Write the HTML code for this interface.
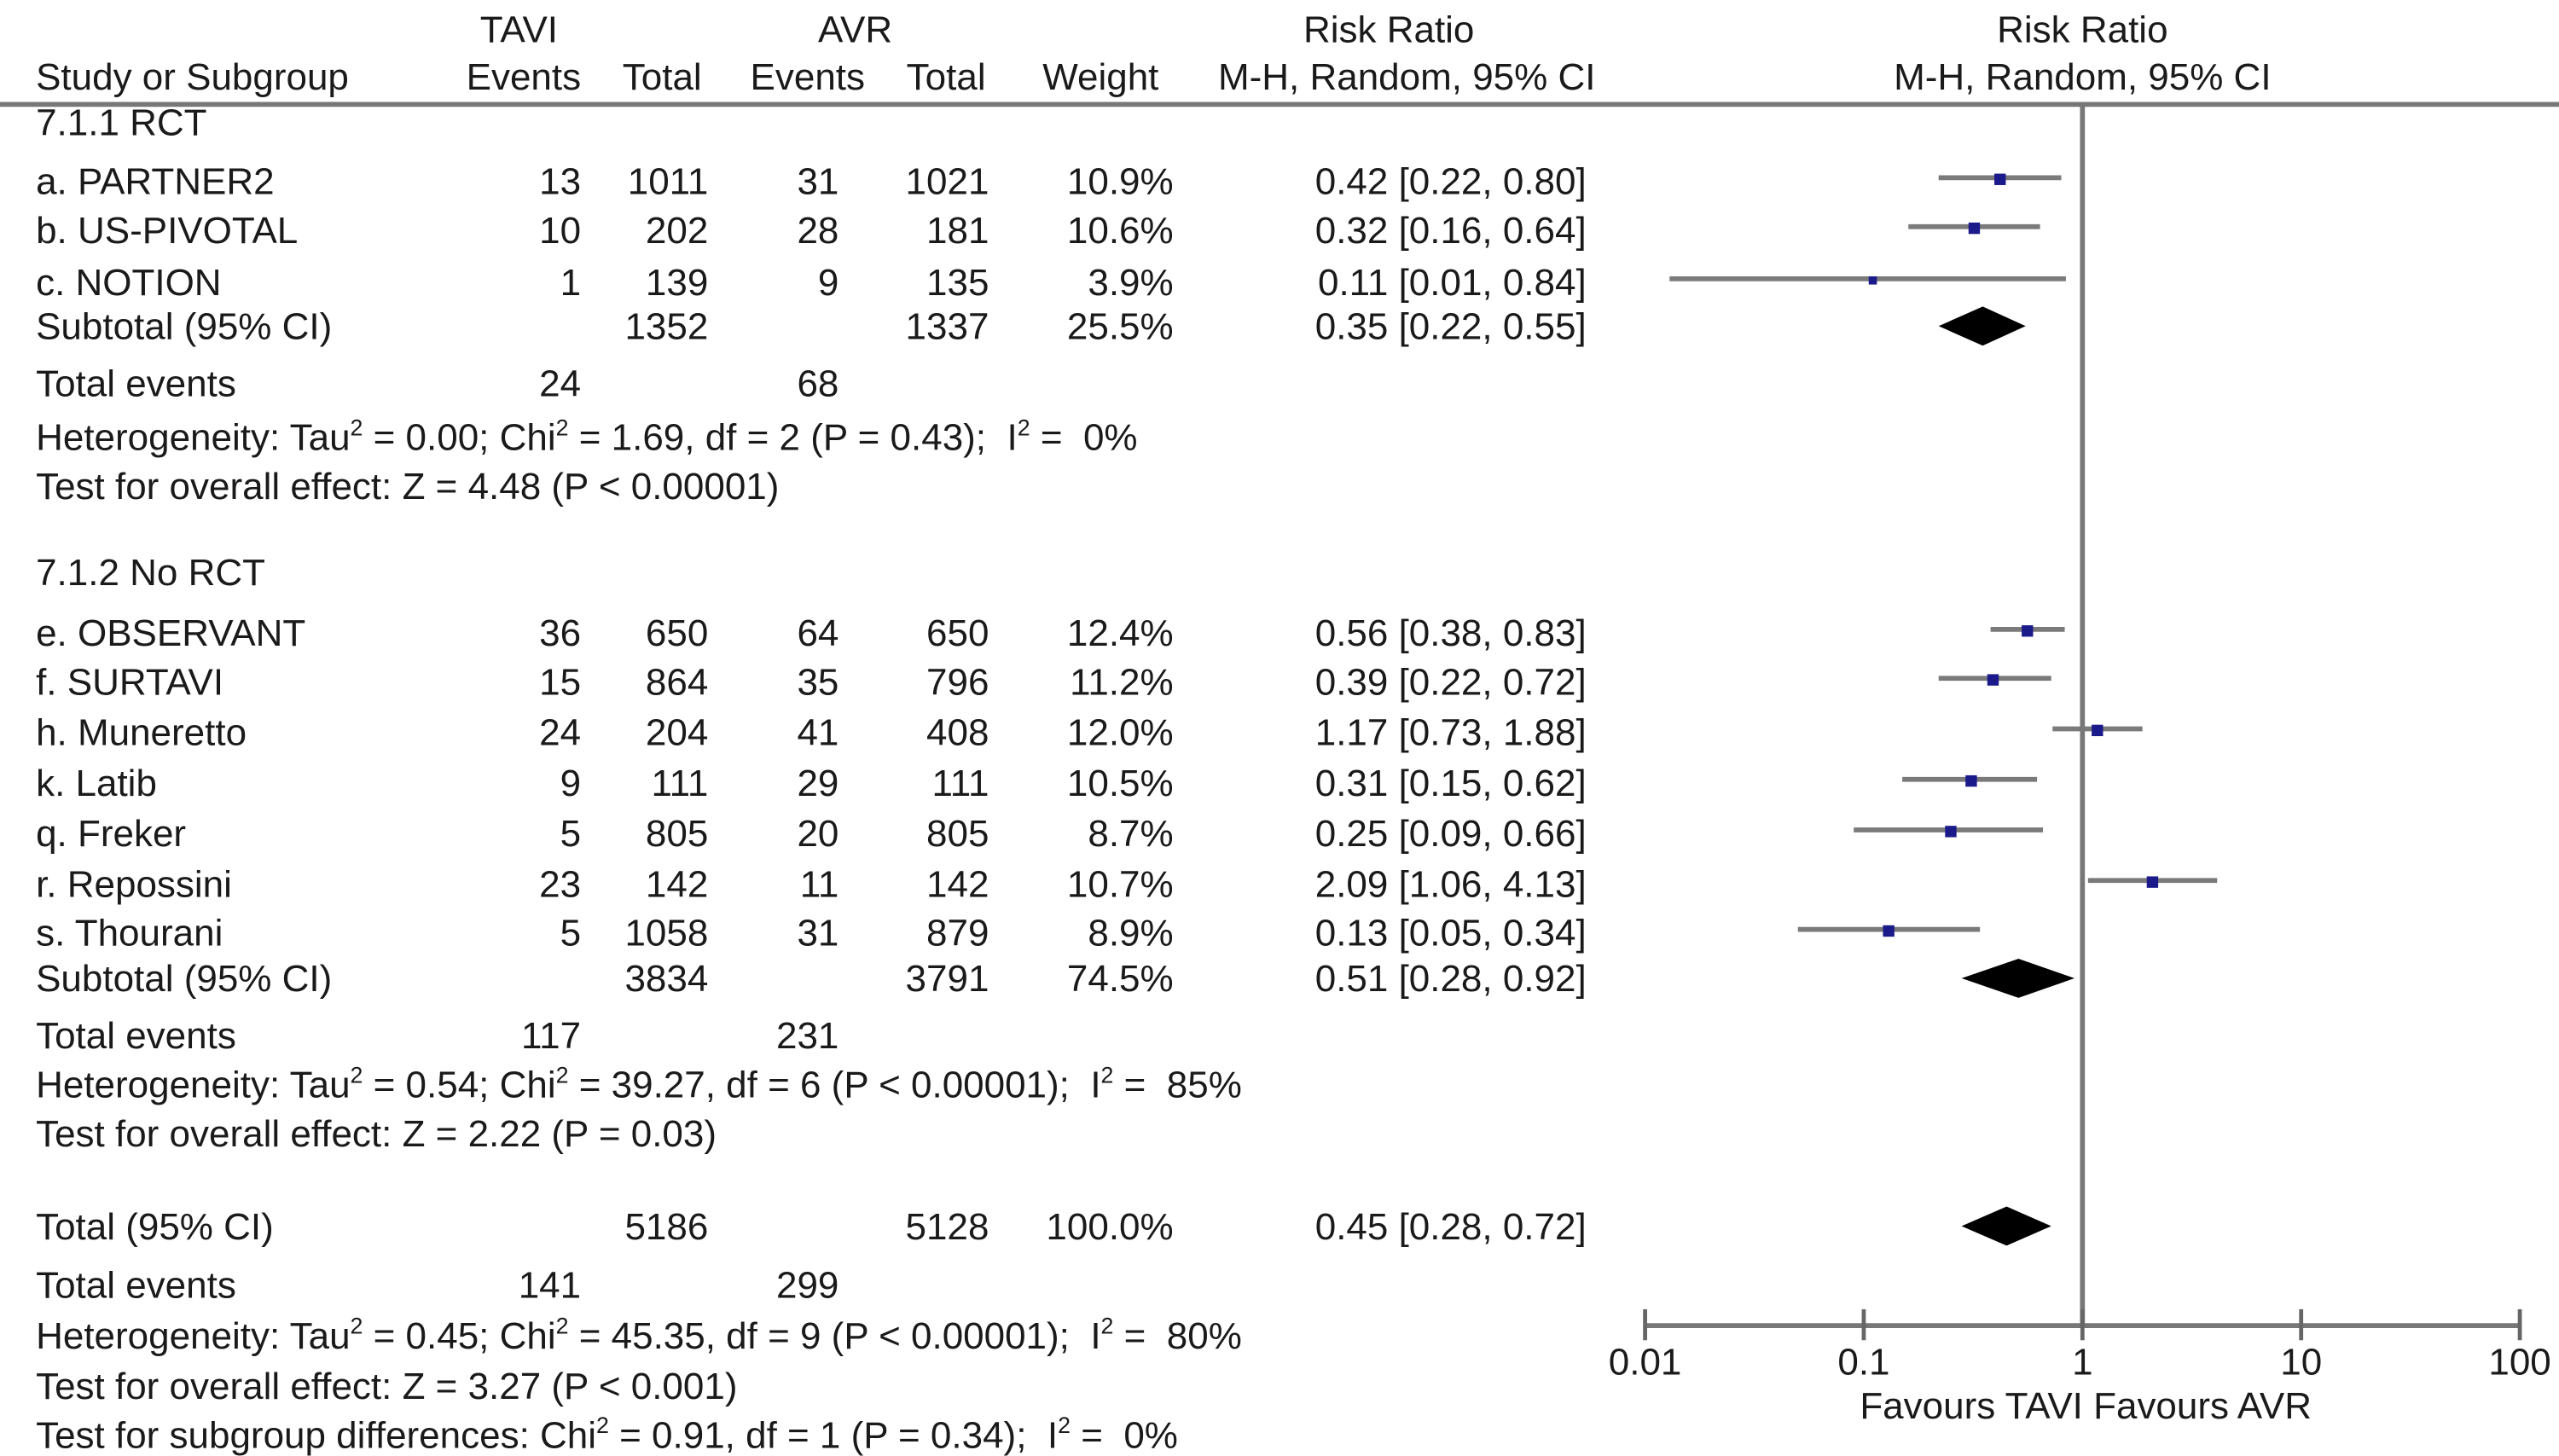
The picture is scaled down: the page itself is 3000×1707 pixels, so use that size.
<!DOCTYPE html>
<html><head><meta charset="utf-8"><style>
html,body{margin:0;padding:0;background:#fff;}
svg{display:block;}
text{font-family:"Liberation Sans",Arial,sans-serif;font-size:23px;fill:#1a1a1a;white-space:pre;}
</style></head><body>
<svg id="chart" width="3000" height="1707" viewBox="0 0 1568 893" preserveAspectRatio="none" xmlns="http://www.w3.org/2000/svg" xml:space="preserve">
<g id="hdr">
<text x="318" y="26" text-anchor="middle">TAVI</text>
<text x="524" y="26" text-anchor="middle">AVR</text>
<text x="851" y="26" text-anchor="middle">Risk Ratio</text>
<text x="1276" y="26" text-anchor="middle">Risk Ratio</text>
<text x="22" y="55">Study or Subgroup</text>
<text x="356" y="55" text-anchor="end">Events</text>
<text x="430" y="55" text-anchor="end">Total</text>
<text x="530" y="55" text-anchor="end">Events</text>
<text x="604" y="55" text-anchor="end">Total</text>
<text x="710" y="55" text-anchor="end">Weight</text>
<text x="862" y="55" text-anchor="middle">M-H, Random, 95% CI</text>
<text x="1276" y="55" text-anchor="middle">M-H, Random, 95% CI</text>
</g>
<line x1="0" y1="64" x2="1568" y2="64" stroke="#777" stroke-width="3"/>
<g id="rows"></g>
<g id="plot"></g>
</svg>
<script>
const studyNames=["a. PARTNER2","b. US-PIVOTAL","c. NOTION","e. OBSERVANT","f. SURTAVI","h. Muneretto","k. Latib","q. Freker","r. Repossini","s. Thourani"];
const studyY=[111,141,173,388,418,449,480,511,542,572];
const taviEvents=["13","10","1","36","15","24","9","5","23","5"];
const taviTotal=["1011","202","139","650","864","204","111","805","142","1058"];
const avrEvents=["31","28","9","64","35","41","29","20","11","31"];
const avrTotal=["1021","181","135","650","796","408","111","805","142","879"];
const weights=["10.9%","10.6%","3.9%","12.4%","11.2%","12.0%","10.5%","8.7%","10.7%","8.9%"];
const rr=[0.42,0.32,0.11,0.56,0.39,1.17,0.31,0.25,2.09,0.13];
const lo=[0.22,0.16,0.01,0.38,0.22,0.73,0.15,0.09,1.06,0.05];
const hi=[0.80,0.64,0.84,0.83,0.72,1.88,0.62,0.66,4.13,0.34];
const poolNames=["Subtotal (95% CI)","Subtotal (95% CI)","Total (95% CI)"];
const poolY=[200,600,752];
const poolTavi=["1352","3834","5186"];
const poolAvr=["1337","3791","5128"];
const poolW=["25.5%","74.5%","100.0%"];
const poolRR=[0.35,0.51,0.45];
const poolLo=[0.22,0.28,0.28];
const poolHi=[0.55,0.92,0.72];
const tickVals=[0.01,0.1,1,10,100];
const tickLabels=["0.01","0.1","1","10","100"];

const NS="http://www.w3.org/2000/svg";
const x=v=>1276+Math.log10(v)*134;
const rows=document.getElementById('rows'), plot=document.getElementById('plot');
function t(parent,str,xx,yy,anchor,name){const e=document.createElementNS(NS,'text');e.setAttribute('x',xx);e.setAttribute('y',yy);if(anchor)e.setAttribute('text-anchor',anchor);e.textContent=str;


parent.appendChild(e);return e;}
function f2(v){return v.toFixed(2);}
studyNames.forEach((n,i)=>{const y=studyY[i]+8;
t(rows,n,22,y,null,'study-name');t(rows,taviEvents[i],356,y,'end','tavi-events');t(rows,taviTotal[i],434,y,'end','tavi-total');
t(rows,avrEvents[i],514,y,'end','avr-events');t(rows,avrTotal[i],606,y,'end','avr-total');t(rows,weights[i],719,y,'end','weight');
t(rows,f2(rr[i])+" ["+f2(lo[i])+", "+f2(hi[i])+"]",972,y,'end','risk-ratio-ci');
const l=document.createElementNS(NS,'line');l.setAttribute('x1',Math.max(x(lo[i]),1023));l.setAttribute('x2',x(hi[i]));l.setAttribute('y1',studyY[i]-2);l.setAttribute('y2',studyY[i]-2);l.setAttribute('stroke','#7a7a7a');l.setAttribute('stroke-width','3');


plot.appendChild(l);
const s=document.createElementNS(NS,'rect');const sz=i==2?5:7;s.setAttribute('x',x(rr[i])-sz/2);s.setAttribute('y',studyY[i]-2-sz/2+1);s.setAttribute('width',sz);s.setAttribute('height',sz);s.setAttribute('fill','#1a1a8a');


plot.appendChild(s);});
poolNames.forEach((n,i)=>{const y=poolY[i]+8;
t(rows,n,22,y,null,'pooled-name');t(rows,poolTavi[i],434,y,'end','pooled-tavi-total');t(rows,poolAvr[i],606,y,'end','pooled-avr-total');
t(rows,poolW[i],719,y,'end','pooled-weight');t(rows,f2(poolRR[i])+" ["+f2(poolLo[i])+", "+f2(poolHi[i])+"]",972,y,'end','pooled-ci');
const d=document.createElementNS(NS,'polygon');const c=poolY[i];
d.setAttribute('points',`${x(poolLo[i])},${c} ${x(poolRR[i])},${c-12} ${x(poolHi[i])},${c} ${x(poolRR[i])},${c+12}`);d.setAttribute('fill','#000');


plot.appendChild(d);});
const extra=[["7.1.1 RCT",22,83],["Total events",22,243],["7.1.2 No RCT",22,359],["Total events",22,643],["Total events",22,796],
["24",356,243,'end'],["68",514,243,'end'],["117",356,643,'end'],["231",514,643,'end'],["141",356,796,'end'],["299",514,796,'end'],
["Test for overall effect: Z = 4.48 (P < 0.00001)",22,306],["Test for overall effect: Z = 2.22 (P = 0.03)",22,703],["Test for overall effect: Z = 3.27 (P < 0.001)",22,858]];
extra.forEach(e=>t(rows,e[0],e[1],e[2],e[3]||null,'table-text'));
const het=[["Heterogeneity: Tau","2"," = 0.00; Chi","2"," = 1.69, df = 2 (P = 0.43);  I","2"," =  0%",276],
["Heterogeneity: Tau","2"," = 0.54; Chi","2"," = 39.27, df = 6 (P < 0.00001);  I","2"," =  85%",673],
["Heterogeneity: Tau","2"," = 0.45; Chi","2"," = 45.35, df = 9 (P < 0.00001);  I","2"," =  80%",827],
["Test for subgroup differences: Chi","2"," = 0.91, df = 1 (P = 0.34);  I","2"," =  0%",888]];
het.forEach(h=>{const y=h[h.length-1];const e=t(rows,'',22,y,null,'heterogeneity-text');
for(let k=0;k<h.length-1;k++){const sp=document.createElementNS(NS,'tspan');sp.textContent=h[k].replace(/  /g,'\u00a0\u00a0');
if(k%2==1){sp.setAttribute('font-size','14');sp.setAttribute('dy','-9');}else if(k>0){sp.setAttribute('dy','9');}
e.appendChild(sp);}});
const vl=document.createElementNS(NS,'line');vl.setAttribute('x1',x(1));vl.setAttribute('x2',x(1));vl.setAttribute('y1',64);vl.setAttribute('y2',814);vl.setAttribute('stroke','#777');vl.setAttribute('stroke-width','3');


plot.appendChild(vl);
const ax=document.createElementNS(NS,'line');ax.setAttribute('x1',x(0.01));ax.setAttribute('x2',x(100));ax.setAttribute('y1',813);ax.setAttribute('y2',813);ax.setAttribute('stroke','#777');ax.setAttribute('stroke-width','3');


plot.appendChild(ax);
tickVals.forEach((v,i)=>{const tk=document.createElementNS(NS,'line');tk.setAttribute('x1',x(v));tk.setAttribute('x2',x(v));tk.setAttribute('y1',803);tk.setAttribute('y2',822);tk.setAttribute('stroke','#666');tk.setAttribute('stroke-width','2.5');


plot.appendChild(tk);
t(plot,tickLabels[i],x(v),843,'middle','x-tick-label');});
t(plot,"Favours TAVI Favours AVR",1278,870,'middle','x-axis-title');
</script>
</body></html>
